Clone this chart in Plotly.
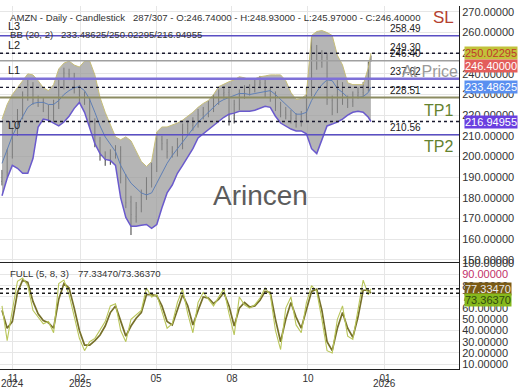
import plotly.graph_objects as go

# ---------------- data (sampled every ~4 bars) ----------------
bar = list(range(0, 285, 4)) + [286]

open_ = [188.0, 192.5, 201.0, 212.5, 220.0, 229.5, 234.0, 227.0, 226.5, 223.0, 219.0, 225.5, 235.0, 240.0, 239.0, 232.0, 229.5, 226.5, 216.0, 207.5,
         200.0, 198.5, 201.0, 203.0, 189.0, 178.0, 171.0, 176.0, 181.5, 187.5, 195.0, 208.0, 206.5, 202.0, 202.5, 206.0, 213.5, 215.0, 216.5, 220.5,
         221.5, 224.0, 227.5, 230.5, 231.0, 218.5, 225.0, 230.5, 232.0, 233.0, 235.0, 235.5, 231.5, 229.0, 224.5, 221.5, 220.0, 218.5, 217.0, 219.5,
         231.5, 251.0, 245.5, 248.0, 227.0, 223.0, 234.5, 227.5, 226.5, 229.5, 231.0, 234.0, 246.74]
high = [193.5, 203.5, 214.0, 223.0, 231.5, 237.5, 236.0, 229.5, 228.5, 225.0, 227.5, 237.5, 243.0, 242.5, 240.5, 234.5, 231.5, 228.5, 218.5, 209.5,
        202.5, 203.5, 205.5, 205.0, 191.5, 181.0, 178.0, 184.0, 190.0, 197.0, 211.5, 210.0, 208.5, 205.0, 209.0, 216.0, 217.5, 219.0, 223.0, 224.0,
        227.0, 230.0, 232.5, 234.0, 233.0, 227.5, 232.5, 234.5, 235.0, 237.5, 239.0, 237.5, 233.5, 231.5, 226.5, 224.0, 222.5, 221.0, 222.0, 233.5,
        258.5, 254.0, 251.5, 250.0, 229.5, 237.0, 236.0, 229.5, 231.5, 233.5, 236.0, 246.0, 248.93]
low = [186.0, 190.0, 199.0, 210.0, 218.0, 227.0, 225.0, 224.0, 221.5, 217.0, 216.5, 223.0, 232.5, 237.0, 230.5, 226.5, 225.0, 214.0, 204.5, 198.0,
       195.5, 196.0, 199.0, 187.0, 175.0, 162.0, 168.0, 173.0, 179.0, 185.0, 192.5, 203.0, 199.0, 199.5, 200.0, 203.5, 211.0, 212.5, 214.0, 218.0,
       219.0, 221.5, 225.0, 228.0, 215.0, 216.0, 222.5, 228.0, 229.5, 231.0, 233.0, 228.5, 226.5, 222.0, 219.0, 218.0, 216.0, 214.0, 214.5, 217.0,
       229.0, 242.0, 243.0, 225.0, 220.0, 221.0, 225.0, 223.5, 224.0, 228.0, 229.0, 231.5, 245.97]
close = [191.9, 201.4, 211.9, 220.5, 229.0, 234.8, 227.6, 226.2, 223.8, 219.5, 225.2, 234.8, 240.5, 239.5, 232.9, 229.0, 227.1, 216.7, 207.1, 200.5,
         198.1, 201.4, 202.9, 189.5, 177.6, 171.9, 175.2, 181.0, 187.1, 194.3, 208.6, 206.2, 202.4, 202.4, 206.2, 213.3, 214.8, 216.7, 220.5, 221.4,
         224.3, 227.6, 230.0, 231.0, 218.1, 225.2, 230.0, 231.9, 232.9, 234.8, 235.7, 231.0, 229.0, 224.3, 221.4, 220.5, 218.6, 216.7, 219.5, 231.0,
         251.4, 245.2, 248.1, 227.6, 222.9, 234.8, 227.6, 226.2, 229.0, 231.0, 233.8, 243.3, 246.4]

bb_upper = [218.1, 225.2, 230.0, 233.3, 237.1, 240.0, 239.5, 236.7, 233.3, 231.9, 234.8, 242.4, 245.2, 246.2, 244.3, 243.3, 246.2, 246.2, 239.5, 228.6,
            221.4, 215.7, 209.5, 208.1, 209.5, 207.6, 202.9, 197.6, 195.2, 197.6, 211.9, 214.3, 214.3, 215.2, 216.2, 217.6, 219.5, 221.4, 223.8, 225.7,
            227.1, 230.0, 233.8, 235.2, 236.2, 237.1, 238.6, 238.1, 237.1, 237.6, 238.6, 239.0, 239.5, 239.5, 239.5, 236.7, 231.0, 227.6, 228.1, 230.0,
            258.6, 260.5, 261.0, 260.0, 258.6, 249.0, 244.3, 235.7, 234.8, 234.8, 234.8, 242.9, 250.02]
bb_lower = [181.0, 189.5, 195.7, 194.3, 191.9, 191.9, 199.0, 214.3, 218.1, 217.6, 216.2, 214.8, 216.7, 219.5, 223.3, 226.2, 221.4, 213.3, 206.2, 201.4,
            198.6, 198.1, 195.7, 180.0, 170.5, 166.2, 166.2, 166.7, 167.1, 165.2, 167.1, 175.2, 182.4, 186.2, 191.9, 195.7, 199.5, 203.8, 209.0, 211.0,
            212.9, 214.8, 217.1, 219.0, 220.5, 221.0, 221.9, 221.9, 221.9, 222.4, 223.3, 224.3, 223.8, 219.5, 216.2, 214.8, 213.3, 212.4, 212.4, 211.0,
            203.8, 201.4, 208.6, 214.8, 215.7, 216.7, 218.1, 220.0, 221.4, 221.9, 221.4, 219.0, 216.95]
bb_mid = [196.7, 203.8, 210.0, 214.8, 219.0, 223.8, 225.7, 226.2, 226.2, 225.2, 225.2, 227.1, 230.0, 231.9, 233.3, 233.8, 231.9, 227.6, 221.4, 214.8,
          209.5, 206.2, 202.4, 195.7, 191.0, 187.1, 184.8, 182.4, 181.4, 182.4, 187.1, 191.9, 196.7, 200.5, 203.8, 207.1, 210.0, 213.8, 216.7, 219.0,
          221.4, 223.8, 226.2, 227.6, 228.6, 229.5, 230.5, 230.5, 230.0, 230.5, 231.0, 231.4, 231.9, 230.0, 227.6, 225.7, 223.3, 220.5, 220.5, 221.4,
          227.1, 231.4, 234.8, 237.1, 236.7, 232.9, 231.0, 228.6, 228.6, 228.6, 229.0, 231.0, 233.49]

stoch_k = [62, 31, 58, 84, 87, 80, 58, 52, 46, 48, 38, 82, 85, 72, 52, 33, 22, 30, 33, 40,
           48, 62, 64, 40, 30, 50, 54, 58, 78, 70, 72, 58, 42, 46, 65, 77, 55, 38, 65, 74,
           68, 62, 70, 77, 55, 36, 70, 63, 60, 63, 69, 78, 72, 40, 23, 60, 70, 45, 38, 65,
           80, 75, 50, 22, 20, 50, 62, 35, 32, 60, 85, 72, 77.3347]
stoch_d = [58, 42, 48, 74, 85, 83, 66, 55, 49, 47, 42, 68, 82, 78, 60, 40, 27, 27, 31, 36,
           44, 56, 62, 48, 35, 44, 51, 56, 72, 72, 71, 62, 48, 45, 58, 72, 62, 45, 58, 70,
           69, 64, 68, 74, 62, 44, 60, 65, 61, 62, 67, 75, 74, 50, 30, 50, 65, 52, 42, 58,
           75, 77, 58, 30, 22, 42, 56, 42, 34, 52, 76, 76, 73.3637]

tick_bars = [8.5, 60.5, 119.4, 178.3, 237.2, 296.9]
tick_months = ["11", "02", "05", "08", "10", "01"]
tick_years = ["2024", "2025", "", "", "", "2026"]

# level lines: (value, color, width, label)
levels = [(258.49, "#5a4fc4", 1.5, "258.49"), (246.40, "#a0a0a0", 1.5, "246.40"),
          (237.62, "#7e70d8", 2.5, "237.62"), (228.51, "#8c8c62", 2.0, "228.51"),
          (210.56, "#5a4fc4", 1.5, "210.56")]
extra_labels = [(249.30, "249.30")]
bb_last = [250.02295, 233.48625, 216.94955]
k_last, d_last = 77.33470, 73.36370

FONT = "Liberation Sans, Arial, sans-serif"
MAIN_RANGE = [149.05, 272.86]
LOW_RANGE = [5.6, 100.55]

fig = go.Figure()

fig.add_trace(go.Scatter(x=bar, y=bb_upper, mode="lines", line=dict(color="#c6bd78", width=1),
                         xaxis="x", yaxis="y", hoverinfo="skip"))
fig.add_trace(go.Scatter(x=bar, y=bb_lower, mode="lines", line=dict(color="#6a5acd", width=1.5),
                         fill="tonexty", fillcolor="rgba(150,150,150,0.7)", xaxis="x", yaxis="y", hoverinfo="skip"))
fig.add_trace(go.Scatter(x=bar, y=bb_mid, mode="lines", line=dict(color="#5f7fb5", width=1),
                         xaxis="x", yaxis="y", hoverinfo="skip"))
fig.add_trace(go.Ohlc(x=bar, open=open_, high=high, low=low, close=close, tickwidth=0.12,
                      increasing=dict(line=dict(color="#3c3c3c", width=1)),
                      decreasing=dict(line=dict(color="#3c3c3c", width=1)),
                      xaxis="x", yaxis="y"))

fig.add_trace(go.Scatter(x=bar, y=stoch_d, mode="lines", line=dict(color="#76702a", width=1.7),
                         xaxis="x2", yaxis="y2", hoverinfo="skip"))
fig.add_trace(go.Scatter(x=bar, y=stoch_k, mode="lines", line=dict(color="#b9c65a", width=1.1),
                         xaxis="x2", yaxis="y2", hoverinfo="skip"))

shapes = []
for v, c, w, _ in levels:
    shapes.append(dict(type="line", xref="x domain", yref="y", x0=0, x1=1, y0=v, y1=v,
                       line=dict(color=c, width=w), layer="above"))
for v in bb_last:
    shapes.append(dict(type="line", xref="x domain", yref="y", x0=0, x1=1, y0=v, y1=v,
                       line=dict(color="#1a1a2e", width=1.4, dash="3px,3px"), layer="above"))
for v in (k_last, d_last):
    shapes.append(dict(type="line", xref="x2 domain", yref="y2", x0=0, x1=1, y0=v, y1=v,
                       line=dict(color="#1a1a1a", width=1.4, dash="3px,3px"), layer="above"))

ann = []
def txt(x, y, s, size, color, xanchor="left", xref="paper", yref="paper", yanchor="middle", **kw):
    ann.append(dict(x=x, y=y, xref=xref, yref=yref, text=s, showarrow=False, xanchor=xanchor,
                    yanchor=yanchor, font=dict(family=FONT, size=size, color=color), **kw))

H = 369.0
def py(pix):  # pixel row -> paper y
    return 1 - pix / H

txt(8 / 459, py(12), "AMZN - Daily - Candlestick", 9.6, "#333")
txt(131 / 459, py(12), "287/307 - O:246.74000 - H:248.93000 - L:245.97000 - C:246.40000", 9.6, "#333")
txt(8 / 459, py(29), "BB (20, 2)", 9.6, "#333")
txt(59 / 459, py(29), "233.48625/250.02295/216.94955", 9.6, "#333")
txt(8 / 459, py(272), "FULL (5, 8, 3)", 9.6, "#333")
txt(76 / 459, py(272), "77.33470/73.36370", 9.6, "#333")

for lab, pix in (("L3", 20), ("L2", 40), ("L1", 65), ("L0", 121)):
    txt(6 / 459, py(pix), lab, 11, "#222")

for v, _, _, lab in levels:
    txt(423 / 459, v, lab, 10, "#222", xanchor="right", yref="y", yshift=7)
for v, lab in extra_labels:
    txt(423 / 459, v, lab, 10, "#222", xanchor="right", yref="y", yshift=7)

txt(443 / 459, py(12), "SL", 17, "#b5412f", xanchor="center")
txt(400 / 459, py(67), "At Price", 16, "#9a9a9a")
txt(455 / 459, py(106), "TP1", 16, "#64822f", xanchor="right")
txt(455 / 459, py(143), "TP2", 16, "#64822f", xanchor="right")
txt(260 / 459, py(193), "Arincen", 28, "#5c5c5c", xanchor="center")

def badge(v, yref, s, bg, fg, shift=0):
    ann.append(dict(x=1, y=v, xref="paper", yref=yref, text=s, showarrow=False, xanchor="left",
                    yanchor="middle", xshift=5, yshift=shift, bgcolor=bg, borderpad=0,
                    font=dict(family=FONT, size=11, color=fg)))

badge(bb_last[0], "y", "250.02295", "#c2c23a", "#c0392b")
badge(246.40, "y", "246.40000", "#e35d5b", "#ffffff", -5)
badge(bb_last[1], "y", "233.48625", "#5a8ff0", "#ffffff")
badge(bb_last[2], "y", "216.94955", "#6a3fe0", "#ffffff")
badge(k_last, "y2", "77.33470", "#7a5a14", "#e8e8e8")
badge(d_last, "y2", "73.36370", "#86b81c", "#2f4a10", -7)

for tb, yr in zip(tick_bars, tick_years):
    if yr:
        ann.append(dict(x=tb, y=0, xref="x2", yref="paper", text=yr, showarrow=False, xanchor="center",
                        yanchor="middle", yshift=-14, font=dict(family=FONT, size=10, color="#333")))

low_vals = [10, 20, 30, 40, 50, 60, 70, 80, 90, 100]
low_text = [f"{v:.5f}" for v in low_vals]
low_text[8] = "<span style='color:#c2306a'>90.00000</span>"

axis_common = dict(showgrid=True, gridcolor="#e6e6e6", gridwidth=1, zeroline=False)
fig.update_layout(
    width=520, height=390, margin=dict(l=0, r=61, t=0, b=21),
    paper_bgcolor="white", plot_bgcolor="white", showlegend=False,
    font=dict(family=FONT, size=11, color="#333"),
    xaxis=dict(domain=[0, 1], anchor="y", range=[-1.55, 354.3], tickvals=tick_bars, showticklabels=False,
               showline=True, linecolor="#222", linewidth=1, rangeslider=dict(visible=False), **axis_common),
    yaxis=dict(domain=[1 - 260 / H, 1], anchor="x", side="right", range=MAIN_RANGE, dtick=10, tick0=0,
               tickformat=".5f", showline=True, linecolor="#222", linewidth=1, ticks="",
               tickfont=dict(size=11, color="#333"), **axis_common),
    xaxis2=dict(domain=[0, 1], anchor="y2", range=[-1.55, 354.3], tickvals=tick_bars, ticktext=tick_months,
                showline=True, linecolor="#222", linewidth=1, ticks="", ticklabelstandoff=0,
                tickfont=dict(size=10, color="#333"), **axis_common),
    yaxis2=dict(domain=[0, 1 - 261 / H], anchor="x2", side="right", range=LOW_RANGE, tickvals=low_vals,
                ticktext=low_text, showline=True, linecolor="#222", linewidth=1, ticks="",
                tickfont=dict(size=11, color="#333"), **axis_common),
    shapes=shapes, annotations=ann,
)

fig.write_html("out.html")
